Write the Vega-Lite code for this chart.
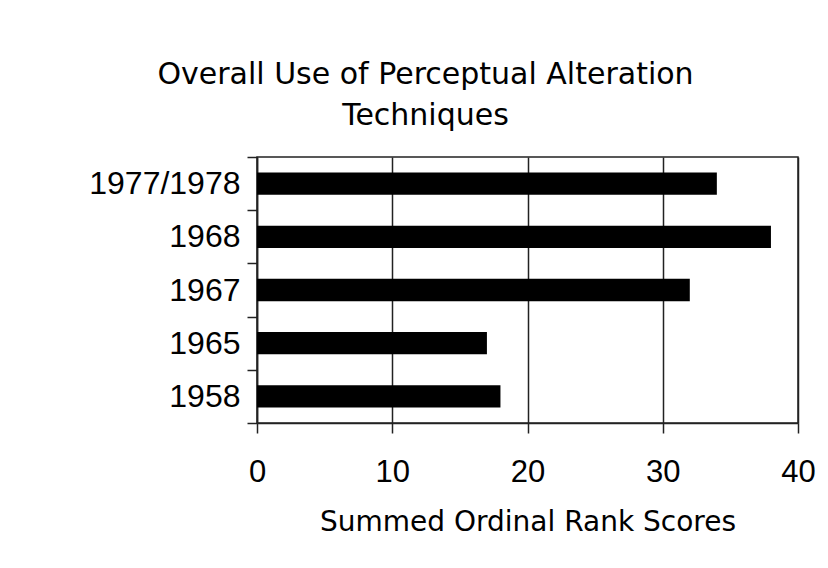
{
  "$schema": "https://vega.github.io/schema/vega-lite/v6.json",
  "width": 541,
  "height": 266,
  "autosize": {"type": "none"},
  "padding": {"left": 257, "top": 157, "right": 30, "bottom": 145},
  "background": "white",
  "config": {
    "view": {"stroke": "#222", "strokeWidth": 1.5}
  },
  "title": {
    "text": ["Overall Use of Perceptual Alteration", "Techniques"],
    "font": "DejaVu Sans",
    "fontSize": 30,
    "fontWeight": "normal",
    "color": "black",
    "anchor": "middle",
    "frame": "group",
    "dx": -102,
    "offset": 10,
    "lineHeight": 41
  },
  "data": {
    "values": [
      {"period": "1977/1978", "score": 34},
      {"period": "1968", "score": 38},
      {"period": "1967", "score": 32},
      {"period": "1965", "score": 17},
      {"period": "1958", "score": 18}
    ]
  },
  "mark": {"type": "bar", "color": "black", "height": {"band": 0.42}},
  "encoding": {
    "y": {
      "field": "period",
      "type": "nominal",
      "sort": ["1977/1978", "1968", "1967", "1965", "1958"],
      "scale": {"paddingInner": 0, "paddingOuter": 0},
      "axis": {
        "title": null,
        "tickBand": "extent",
        "tickSize": 10,
        "tickColor": "#222",
        "tickWidth": 1.5,
        "domainColor": "#222",
        "domainWidth": 1.5,
        "labelFont": "Liberation Sans",
        "labelFontSize": 32,
        "labelColor": "black",
        "labelPadding": 7,
        "grid": false
      }
    },
    "x": {
      "field": "score",
      "type": "quantitative",
      "scale": {"domain": [0, 40]},
      "axis": {
        "values": [0, 10, 20, 30, 40],
        "title": "Summed Ordinal Rank Scores",
        "titleFont": "DejaVu Sans",
        "titleFontSize": 28,
        "titleFontWeight": "normal",
        "titleColor": "black",
        "titlePadding": 21,
        "grid": true,
        "gridColor": "#222",
        "gridWidth": 1.5,
        "gridOpacity": 1,
        "tickSize": 10,
        "tickColor": "#222",
        "tickWidth": 1.5,
        "domainColor": "#222",
        "domainWidth": 1.5,
        "labelFont": "Liberation Sans",
        "labelFontSize": 31,
        "labelColor": "black",
        "labelPadding": 24,
        "labelFlush": false
      }
    }
  }
}
